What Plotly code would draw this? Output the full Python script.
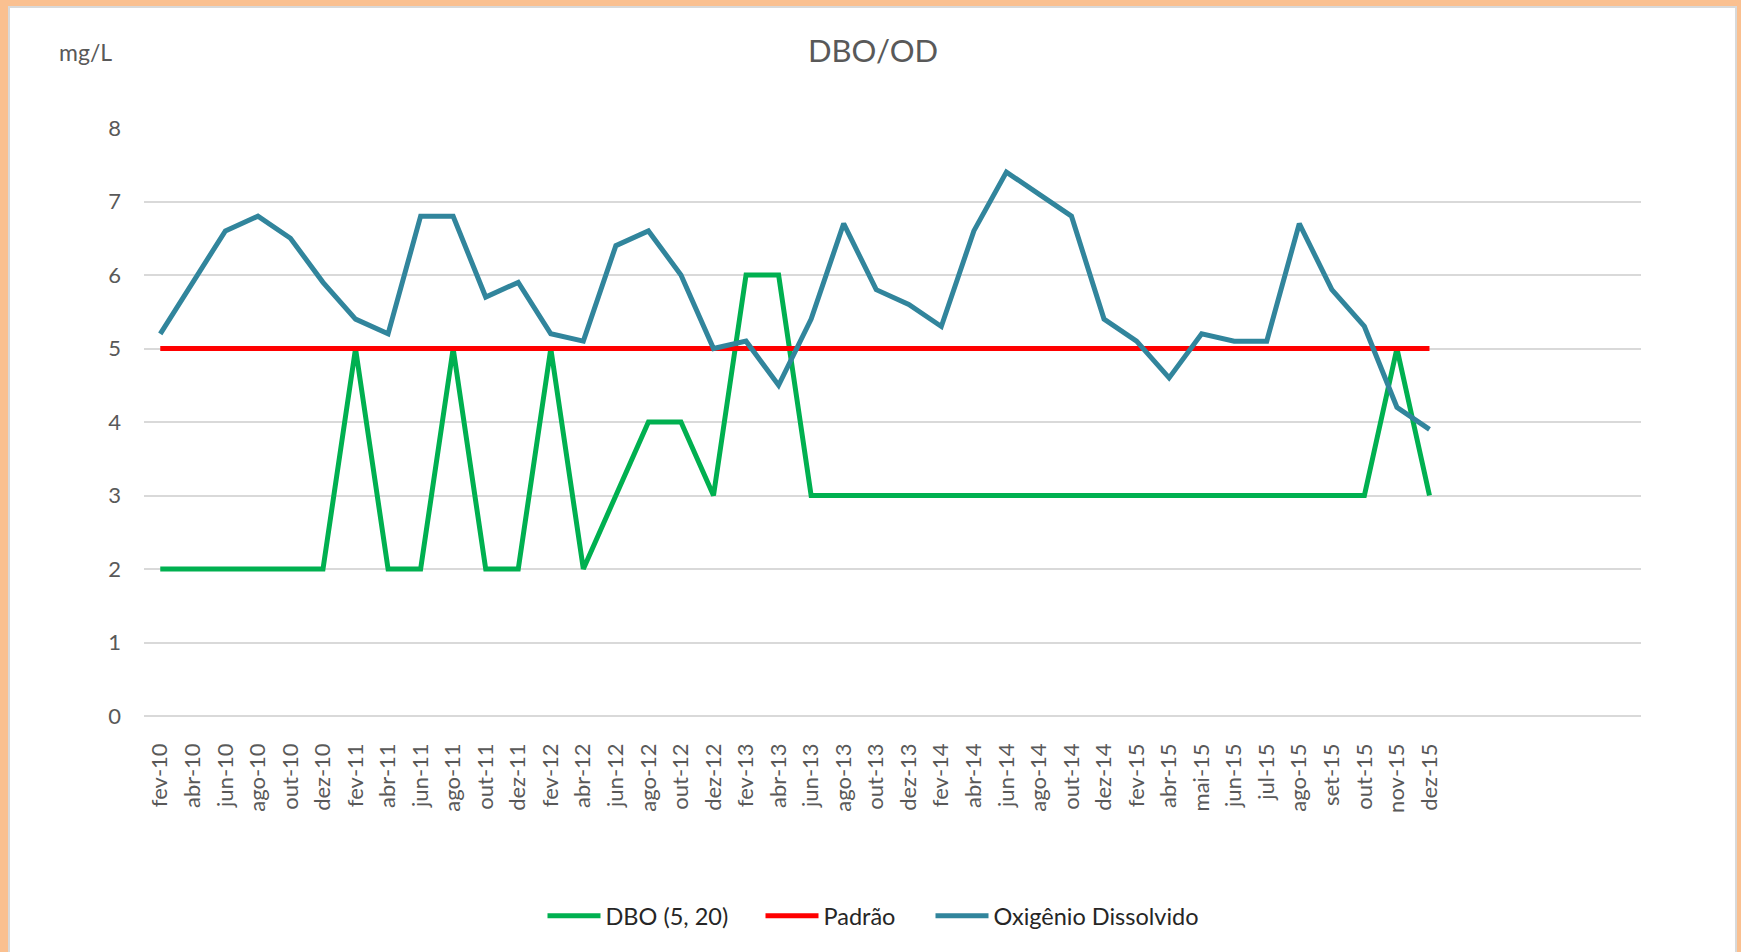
import plotly.graph_objects as go

# ---------------- data ----------------
months = ["fev-10", "abr-10", "jun-10", "ago-10", "out-10", "dez-10",
          "fev-11", "abr-11", "jun-11", "ago-11", "out-11", "dez-11",
          "fev-12", "abr-12", "jun-12", "ago-12", "out-12", "dez-12",
          "fev-13", "abr-13", "jun-13", "ago-13", "out-13", "dez-13",
          "fev-14", "abr-14", "jun-14", "ago-14", "out-14", "dez-14",
          "fev-15", "abr-15", "mai-15", "jun-15", "jul-15", "ago-15",
          "set-15", "out-15", "nov-15", "dez-15"]

dbo = [2, 2, 2, 2, 2, 2,
       5, 2, 2, 5, 2, 2,
       5, 2, 3, 4, 4, 3,
       6, 6, 3, 3, 3, 3,
       3, 3, 3, 3, 3, 3,
       3, 3, 3, 3, 3, 3,
       3, 3, 5, 3]

padrao = [5] * 40

od = [5.2, 5.9, 6.6, 6.8, 6.5, 5.9,
      5.4, 5.2, 6.8, 6.8, 5.7, 5.9,
      5.2, 5.1, 6.4, 6.6, 6.0, 5.0,
      5.1, 4.5, 5.4, 6.7, 5.8, 5.6,
      5.3, 6.6, 7.4, 7.1, 6.8, 5.4,
      5.1, 4.6, 5.2, 5.1, 5.1, 6.7,
      5.8, 5.3, 4.2, 3.9]

y_ticks = [0, 1, 2, 3, 4, 5, 6, 7, 8]

# ---------------- layout geometry (pixels) ----------------
W, H = 1741, 952
L, R, T, B = 144, 1741 - 1641, 128, 952 - 716
PW, PH = W - L - R, H - T - B


def px(x):
    return (x - L) / PW


def py(y):
    return (H - B - y) / PH


GREEN = "#00B050"
RED = "#FF0000"
BLUE = "#31859C"
TXT = "#595959"
GRID = "#D9D9D9"
ORANGE = "#FAC090"
FONT = "Lato, Carlito, 'Open Sans', sans-serif"

fig = go.Figure()
fig.add_trace(go.Scatter(x=months, y=dbo, mode="lines", name="DBO (5, 20)",
                         line=dict(color=GREEN, width=5), legend="legend"))
fig.add_trace(go.Scatter(x=months, y=padrao, mode="lines", name="Padrão",
                         line=dict(color=RED, width=5), legend="legend2"))
fig.add_trace(go.Scatter(x=months, y=od, mode="lines", name="Oxigênio Dissolvido",
                         line=dict(color=BLUE, width=5), legend="legend3"))


def leg(x_px):
    return dict(orientation="h", x=px(x_px), xanchor="left",
                y=py(916), yanchor="middle",
                font=dict(size=23.5, color="#262626", family=FONT),
                bgcolor="rgba(0,0,0,0)", itemwidth=53)


fig.update_layout(
    width=W, height=H,
    margin=dict(l=L, r=R, t=T, b=B, pad=0),
    paper_bgcolor=ORANGE,
    plot_bgcolor="white",
    font=dict(family=FONT, color=TXT, size=22),
    title=dict(text="DBO/OD", x=px(873), xref="paper", xanchor="center",
               y=1 - 51 / H, yref="container", yanchor="middle",
               font=dict(size=31, color=TXT, family=FONT)),
    showlegend=True,
    legend=leg(542.5),
    legend2=leg(760.5),
    legend3=leg(930.5),
    xaxis=dict(type="category", categoryorder="array", categoryarray=months,
               range=[-0.5, 45.5], showgrid=False, zeroline=False,
               showline=False, ticks="", tickangle=-90,
               tickfont=dict(size=22, color=TXT), ticklabelstandoff=22,
               fixedrange=True),
    yaxis=dict(range=[0, 8], tickvals=y_ticks, showgrid=True, gridcolor=GRID,
               gridwidth=1.5, zeroline=True, zerolinecolor=GRID,
               zerolinewidth=1.5, showline=False, ticks="",
               tickfont=dict(size=22, color=TXT), ticklabelstandoff=22,
               fixedrange=True),
    shapes=[dict(type="rect", xref="paper", yref="paper", layer="below",
                 x0=px(9), x1=px(1736), y0=py(970), y1=py(7),
                 fillcolor="white", line=dict(color=GRID, width=2))],
    annotations=[dict(text="mg/L", xref="paper", yref="paper",
                      x=px(57), y=py(52), xanchor="left", yanchor="middle",
                      showarrow=False, font=dict(size=23, color=TXT, family=FONT))],
)

fig.write_html(
    "out.html",
    config={"displayModeBar": False},
    post_script="document.body.style.margin='0';"
                "document.body.style.background='" + ORANGE + "';"
                "document.body.style.overflow='hidden';",
)
